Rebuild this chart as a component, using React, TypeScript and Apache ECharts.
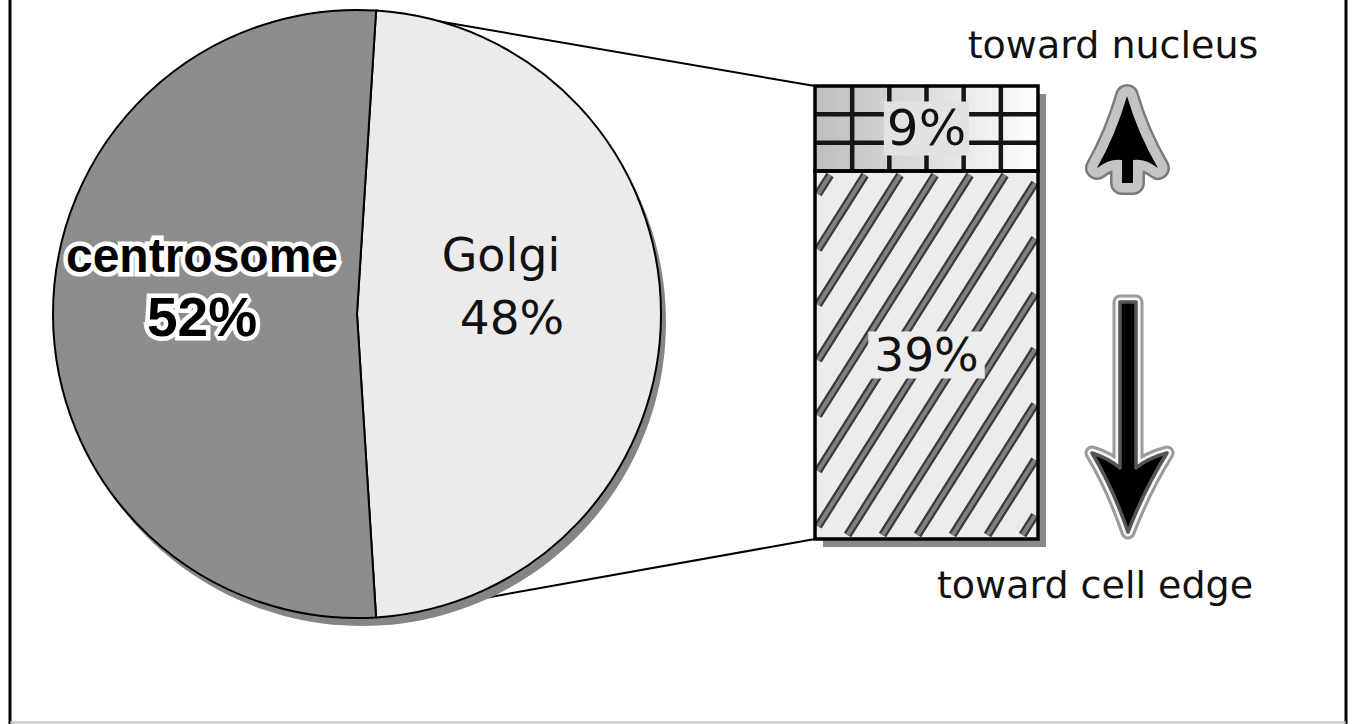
import React, { useEffect, useRef } from "react";
import * as echarts from "echarts";

// ---- data ----
const pieCategories = ["Golgi", "centrosome"];
const pieValues = [48, 52];

const barSegments = ["toward cell edge", "toward nucleus"];
const barValues = [39, 9];
const barPatterns = ["stripes", "grid"];

const directionLabels = ["toward nucleus", "toward cell edge"];

// ---- layout / style ----
const W = 1352;
const H = 724;
const PIE_CX = 357;
const PIE_CY = 314;
const PIE_R = 304;
const BAR_LEFT = 815;
const BAR_TOP = 86;
const BAR_W = 223;
const BAR_H = 453;
const pieColors = ["#ebebeb", "#8d8d8d"];
const FONT = "DejaVu Sans";

const UP_ARROW =
  "M0,0 Q11,38 31,72 Q18,62 6,64 L6,87 L-5,87 L-5,64 Q-17,62 -30,72 Q-11,38 0,0 Z";
const DOWN_ARROW =
  "M-8,0 L8,0 L8,166 Q20,156 39,151 Q17,186 0,230 Q-15,186 -36,151 Q-20,156 -8,166 Z";

echarts.graphic.registerShape("upArrow", echarts.graphic.extendPath(UP_ARROW, {}));
echarts.graphic.registerShape("downArrow", echarts.graphic.extendPath(DOWN_ARROW, {}));

function buildOption() {
  const pieTotal = pieValues.reduce((a, b) => a + b, 0);
  const startAngle = (pieValues[0] / pieTotal) * 180;
  const barTotal = barValues.reduce((a, b) => a + b, 0);

  let acc = 0;
  const barData = barValues.map((v, i) => {
    const item = [0, acc, acc + v, i];
    acc += v;
    return item;
  });

  const plainLabel = {
    show: true,
    position: "inside",
    padding: [0, 0, 56, 0],
    formatter: (p: any) => `{n|${p.name}}\n{p|${Math.round(p.percent)}%}`,
    rich: {
      n: { fontFamily: FONT, fontSize: 46, color: "#111", lineHeight: 62, padding: [0, 22, 0, 0] },
      p: { fontFamily: FONT, fontSize: 47, color: "#111", lineHeight: 62 },
    },
  };
  const haloLabel = {
    show: true,
    position: "inside",
    padding: [0, 0, 56, 0],
    formatter: (p: any) => `{n|${p.name}}\n{p|${Math.round(p.percent)}%}`,
    rich: {
      n: {
        fontFamily: "Liberation Sans",
        fontWeight: "bold",
        fontSize: 48,
        color: "#000",
        textBorderColor: "#fff",
        textBorderWidth: 9,
        lineHeight: 62,
      },
      p: {
        fontFamily: "Liberation Sans",
        fontWeight: "bold",
        fontSize: 55,
        color: "#000",
        textBorderColor: "#fff",
        textBorderWidth: 9,
        lineHeight: 62,
      },
    },
  };

  const a = (startAngle * Math.PI) / 180;
  const topPt = [PIE_CX + PIE_R * Math.cos(a), PIE_CY - PIE_R * Math.sin(a)];
  const botPt = [PIE_CX + PIE_R * Math.cos(a), PIE_CY + PIE_R * Math.sin(a)];

  const K = 0.632; // stripe slant (dx per dy)
  const SP = 35; // stripe spacing

  const renderBar = (params: any, api: any) => {
    const idx = api.value(3);
    const start = api.value(1);
    const end = api.value(2);
    const pb = api.coord([0, start]);
    const pt = api.coord([0, end]);
    const bw = api.size([1, 0])[0];
    const x0 = pb[0] - bw / 2;
    const y0 = pt[1];
    const w = bw;
    const h = pb[1] - pt[1];
    const yb = y0 + h;
    const children: any[] = [];
    children.push({
      type: "rect",
      z2: -10,
      shape: { x: x0 + 8, y: y0 + 8, width: w, height: h },
      style: { fill: "#8a8a8a" },
    });
    const pattern = barPatterns[idx];
    if (pattern === "stripes") {
      children.push({
        type: "rect",
        z2: 0,
        shape: { x: x0, y: y0, width: w, height: h },
        style: { fill: "#ececec" },
      });
      const xl = x0 + 3;
      const xr = x0 + w - 3;
      const yTop = y0 + 4;
      const yBot = yb - 4;
      const nMin = -Math.ceil((h * K) / SP) - 2;
      const nMax = Math.ceil(w / SP) + 2;
      for (let n = nMin; n <= nMax; n++) {
        const xbase = x0 + 30 + n * SP;
        const yLo = Math.max(yTop, yb - (xr - xbase) / K);
        const yHi = Math.min(yBot, yb - (xl - xbase) / K);
        if (yHi - yLo < 2) continue;
        const x1 = xbase + (yb - yHi) * K;
        const x2 = xbase + (yb - yLo) * K;
        children.push({
          type: "line",
          z2: 1,
          shape: { x1, y1: yHi, x2, y2: yLo },
          style: { stroke: "#3a3a3a", lineWidth: 8.5 },
        });
        children.push({
          type: "line",
          z2: 2,
          shape: { x1, y1: yHi, x2, y2: yLo },
          style: { stroke: "#808080", lineWidth: 4 },
        });
      }
    } else {
      children.push({
        type: "rect",
        z2: 0,
        shape: { x: x0, y: y0, width: w, height: h },
        style: {
          fill: {
            type: "linear",
            x: 0,
            y: 0,
            x2: 1,
            y2: 0,
            colorStops: [
              { offset: 0, color: "#bdbdbd" },
              { offset: 1, color: "#ffffff" },
            ],
          },
        },
      });
      for (let j = 1; j < 6; j++) {
        const xx = x0 + (w * j) / 6;
        children.push({
          type: "line",
          z2: 1,
          shape: { x1: xx, y1: y0, x2: xx, y2: yb },
          style: { stroke: "#161616", lineWidth: 4.5 },
        });
      }
      for (let j = 1; j < 3; j++) {
        const yy = y0 + (h * j) / 3;
        children.push({
          type: "line",
          z2: 1,
          shape: { x1: x0, y1: yy, x2: x0 + w, y2: yy },
          style: { stroke: "#161616", lineWidth: 4.5 },
        });
      }
    }
    children.push({
      type: "rect",
      z2: 5,
      shape: { x: x0, y: y0, width: w, height: h },
      style: { fill: "none", stroke: "#000", lineWidth: 3.5 },
    });
    const pct = Math.round((barValues[idx] / pieTotal) * 100);
    children.push({
      type: "text",
      z2: 6,
      style: {
        text: `${pct}%`,
        x: x0 + w / 2,
        y: y0 + h / 2,
        align: "center",
        verticalAlign: "middle",
        font: `${pattern === "grid" ? 50 : 47}px "${FONT}"`,
        fill: "#111",
        backgroundColor: pattern === "grid" ? "#e2e2e2" : "#ececec",
        padding: pattern === "grid" ? [2, 3] : [0, 6],
      },
    });
    return { type: "group", children };
  };

  return {
    animation: false,
    backgroundColor: "#fff",
    textStyle: { fontFamily: FONT },
    grid: { left: BAR_LEFT, top: BAR_TOP, width: BAR_W, height: BAR_H },
    xAxis: { type: "category", data: ["bar"], show: false },
    yAxis: { type: "value", min: 0, max: barTotal, show: false },
    series: [
      {
        type: "pie",
        silent: true,
        z: 1,
        center: [PIE_CX + 5, PIE_CY + 8],
        radius: [0, PIE_R],
        label: { show: false },
        labelLine: { show: false },
        data: [{ name: "shadow", value: pieTotal, itemStyle: { color: "#858585" } }],
      },
      {
        type: "pie",
        silent: true,
        z: 3,
        center: [PIE_CX, PIE_CY],
        radius: [0, PIE_R],
        startAngle,
        clockwise: true,
        avoidLabelOverlap: false,
        itemStyle: { borderColor: "#000", borderWidth: 2 },
        labelLine: { show: false },
        data: pieCategories.map((name, i) => ({
          name,
          value: pieValues[i],
          itemStyle: { color: pieColors[i] },
          label: i === 1 ? haloLabel : plainLabel,
        })),
      },
      {
        type: "custom",
        name: barSegments.join(" / "),
        silent: true,
        z: 3,
        renderItem: renderBar,
        data: barData,
      },
    ],
    graphic: [
      { type: "line", z: 0, shape: { x1: topPt[0], y1: topPt[1], x2: BAR_LEFT, y2: BAR_TOP }, style: { stroke: "#000", lineWidth: 2 } },
      { type: "line", z: 0, shape: { x1: botPt[0], y1: botPt[1], x2: BAR_LEFT, y2: BAR_TOP + BAR_H }, style: { stroke: "#000", lineWidth: 2 } },
      { type: "line", z: 10, shape: { x1: 10, y1: 0, x2: 10, y2: H }, style: { stroke: "#000", lineWidth: 3 } },
      { type: "line", z: 10, shape: { x1: 1346, y1: 0, x2: 1346, y2: H }, style: { stroke: "#000", lineWidth: 3 } },
      { type: "line", z: 10, shape: { x1: 10, y1: 722.5, x2: 1346, y2: 722.5 }, style: { stroke: "#c4c4c4", lineWidth: 2 } },
      // up arrow
      { type: "upArrow", z: 10, x: 1127, y: 96, style: { fill: "#7a7a7a", stroke: "#7a7a7a", lineWidth: 24, lineJoin: "round" } },
      { type: "upArrow", z: 11, x: 1127, y: 96, style: { fill: "#c4c4c4", stroke: "#c4c4c4", lineWidth: 19, lineJoin: "round" } },
      { type: "upArrow", z: 12, x: 1127, y: 96, style: { fill: "#000" } },
      // down arrow
      { type: "downArrow", z: 10, x: 1128, y: 302, style: { fill: "#9a9a9a", stroke: "#9a9a9a", lineWidth: 15, lineJoin: "round" } },
      { type: "downArrow", z: 11, x: 1128, y: 302, style: { fill: "#f4f4f4", stroke: "#f4f4f4", lineWidth: 9, lineJoin: "round" } },
      { type: "downArrow", z: 12, x: 1128, y: 302, style: { fill: "#000", stroke: "#555", lineWidth: 3.5, lineJoin: "round" } },
      {
        type: "text",
        z: 12,
        x: 1113,
        y: 45,
        style: { text: directionLabels[0], font: `38px "${FONT}"`, fill: "#111", align: "center", verticalAlign: "middle" },
      },
      {
        type: "text",
        z: 12,
        x: 1095,
        y: 585,
        style: { text: directionLabels[1], font: `38px "${FONT}"`, fill: "#111", align: "center", verticalAlign: "middle" },
      },
    ],
  };
}

export default function App() {
  const ref = useRef<HTMLDivElement>(null);
  useEffect(() => {
    if (!ref.current) return;
    const chart = echarts.init(ref.current, null, { renderer: "svg" });
    chart.setOption(buildOption() as any);
    return () => chart.dispose();
  }, []);
  return (
    <div
      ref={ref}
      style={{ position: "absolute", left: 0, top: 0, width: W, height: H, background: "#fff" }}
    />
  );
}
